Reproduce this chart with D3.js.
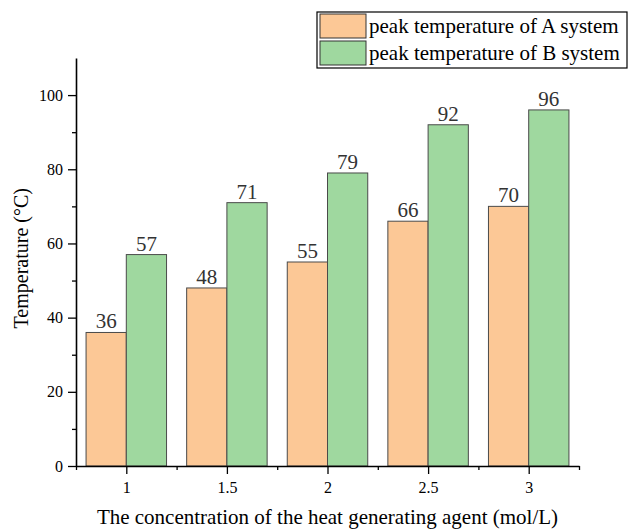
<!DOCTYPE html>
<html>
<head>
	<meta charset="UTF-8">
	<title>Peak temperature</title>
	<script src="https://cdn.jsdelivr.net/npm/d3@7"></script>
	<style>
		body { margin: 0; background: #fff; }
		text { font-family: "Liberation Serif", "Times New Roman", serif; }
	</style>
</head>
<body>
	<div id="chart"></div>
	<script type="text/javascript">
	// data
	var concentrations = [1, 1.5, 2, 2.5, 3];
	var tickLabels = ["1", "1.5", "2", "2.5", "3"];
	var peakA = [36, 48, 55, 66, 70];
	var peakB = [57, 71, 79, 92, 96];
	var seriesNames = ["peak temperature of A system", "peak temperature of B system"];
	var seriesColors = ["#fcc896", "#9fd89f"];

	var width = 629, height = 530;
	var margin = {left: 76, right: 50, top: 58, bottom: 64};

	var svg = d3.select("#chart").append("svg")
		.attr("width", width)
		.attr("height", height);

	var x = d3.scaleLinear().domain([0.75, 3.25]).range([margin.left, width - margin.right]);
	var y = d3.scaleLinear().domain([0, 110]).range([height - margin.bottom, margin.top]);

	var barW = 0.2; // in data units, each bar
	var series = [peakA, peakB];

	// bars
	series.forEach(function(vals, s)
	{
		var g = svg.append("g");
		g.selectAll("rect")
			.data(vals)
			.enter().append("rect")
			.attr("x", function(d, i) { return x(concentrations[i] + (s - 1) * barW); })
			.attr("width", function(d, i) { return x(concentrations[i] + barW) - x(concentrations[i]); })
			.attr("y", function(d) { return y(d); })
			.attr("height", function(d) { return y(0) - y(d); })
			.style("fill", seriesColors[s])
			.style("stroke", "#4a4a4a")
			.style("stroke-width", 1);

		g.selectAll("text")
			.data(vals)
			.enter().append("text")
			.attr("x", function(d, i) { return x(concentrations[i] + (s - 0.5) * barW); })
			.attr("y", function(d) { return y(d) - 4; })
			.attr("text-anchor", "middle")
			.style("font-size", "21px")
			.style("fill", "#333")
			.text(function(d) { return d; });
	});

	// y axis
	svg.append("g")
		.attr("transform", "translate(" + margin.left + ",0)")
		.call(d3.axisLeft(y).tickValues([0, 20, 40, 60, 80, 100]).tickSize(8).tickPadding(5).tickSizeOuter(0));
	svg.append("g")
		.attr("transform", "translate(" + margin.left + ",0)")
		.call(d3.axisLeft(y).tickValues([10, 30, 50, 70, 90]).tickSize(4).tickFormat("").tickSizeOuter(0))
		.select(".domain").remove();

	// x axis
	svg.append("g")
		.attr("transform", "translate(0," + y(0) + ")")
		.call(d3.axisBottom(x).tickValues(concentrations).tickFormat(function(d, i) { return tickLabels[i]; })
			.tickSize(8).tickPadding(8).tickSizeOuter(0));
	svg.append("g")
		.attr("transform", "translate(0," + y(0) + ")")
		.call(d3.axisBottom(x).tickValues([0.75, 1.25, 1.75, 2.25, 2.75, 3.25]).tickSize(4).tickFormat("").tickSizeOuter(0))
		.select(".domain").remove();

	svg.selectAll(".tick text").style("font-size", "16px").style("fill", "#000")
		.style("font-family", "'Liberation Serif', 'Times New Roman', serif");
	svg.selectAll(".domain").style("stroke-width", 1.6);
	svg.selectAll(".tick line").style("stroke-width", 1.3);

	// axis titles
	svg.append("text")
		.attr("x", x(2))
		.attr("y", 524)
		.attr("text-anchor", "middle")
		.style("font-size", "21px")
		.text("The concentration of the heat generating agent (mol/L)");

	svg.append("text")
		.attr("transform", "translate(28," + y(56) + ") rotate(-90)")
		.attr("text-anchor", "middle")
		.style("font-size", "20px")
		.text("Temperature (\u00B0C)");

	// legend
	var legend = svg.append("g").attr("transform", "translate(317,12)");
	legend.append("rect")
		.attr("x", 0).attr("y", 0)
		.attr("width", 310).attr("height", 56)
		.style("fill", "#fff").style("stroke", "#000").style("stroke-width", 1.2);
	seriesNames.forEach(function(name, s)
	{
		legend.append("rect")
			.attr("x", 3).attr("y", 2 + s * 27)
			.attr("width", 46).attr("height", 24)
			.style("fill", seriesColors[s])
			.style("stroke", "#333").style("stroke-width", 1);
		legend.append("text")
			.attr("x", 52).attr("y", 21 + s * 27)
			.style("font-size", "21px")
			.text(name);
	});
	</script>
</body>
</html>
